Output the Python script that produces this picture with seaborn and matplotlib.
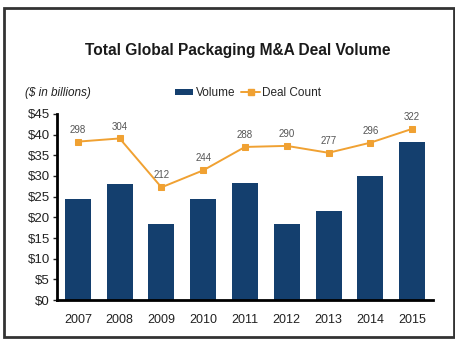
import matplotlib
matplotlib.use("Agg")
import matplotlib.pyplot as plt
import seaborn as sns
import pandas as pd
from matplotlib.patches import Rectangle
from matplotlib.lines import Line2D
from matplotlib.patches import Patch

years = ["2007", "2008", "2009", "2010", "2011", "2012", "2013", "2014", "2015"]
volume = [24.4, 28.1, 18.4, 24.4, 28.3, 18.4, 21.5, 30.0, 38.3]
deal_count = [298, 304, 212, 244, 288, 290, 277, 296, 322]
yticks = [0, 5, 10, 15, 20, 25, 30, 35, 40, 45]
ytick_labels = ["$0", "$5", "$10", "$15", "$20", "$25", "$30", "$35", "$40", "$45"]

sns.set_theme(style="white")
plt.rcParams['font.family'] = ['Liberation Sans', 'DejaVu Sans']

navy = "#143f6e"
orange = "#f0a132"

df = pd.DataFrame({"year": years, "volume": volume, "count": deal_count})

W, H = 456, 343
fig = plt.figure(figsize=(W / 100, H / 100), dpi=100)
ax = fig.add_axes([57 / W, 1 - 300 / H, 376 / W, 186 / H])

sns.barplot(data=df, x="year", y="volume", color=navy, width=0.62, ax=ax,
            saturation=1, edgecolor="none")
ax.set_ylim(0, 45)
ax.set_yticks(yticks)
ax.set_yticklabels(ytick_labels)
ax.set_xlabel("")
ax.set_ylabel("")
for s in ["top", "right"]:
    ax.spines[s].set_visible(False)
ax.spines["left"].set_linewidth(2)
ax.spines["bottom"].set_linewidth(2)
ax.spines["left"].set_color("black")
ax.spines["bottom"].set_color("black")
ax.tick_params(axis="y", left=True, length=3, width=1, labelsize=9.5, pad=2, colors="#222222")
ax.tick_params(axis="x", bottom=False, labelsize=9, pad=4, colors="#222222")
ax.set_xlim(-0.5, 8.5)

ax2 = ax.twinx()
sns.lineplot(data=df, x="year", y="count", color=orange, marker="s", markersize=4,
             markeredgecolor=orange, linewidth=1.4, ax=ax2, sort=False)
ax2.set_ylim(0, 350)
ax2.set_xlim(-0.5, 8.5)
ax2.axis("off")
for i, c in enumerate(deal_count):
    ax2.annotate(str(c), (i, c), xytext=(0, 5), textcoords="offset points",
                 ha="center", va="bottom", fontsize=7, color="#555555")

fig.text(238 / W, 1 - 50 / H, "Total Global Packaging M&A Deal Volume",
         ha="center", va="center", fontsize=11.2, fontweight="bold",
         color="#1a1a1a")
fig.text(25 / W, 1 - 93 / H, "($ in billions)", ha="left", va="center",
         fontsize=8.5, style="italic", color="#222222")

handles = [Patch(facecolor=navy, edgecolor="none"),
           Line2D([0], [0], color=orange, marker="s", markersize=4, linewidth=1.4)]
fig.legend(handles, ["Volume", "Deal Count"], loc="center", bbox_to_anchor=(248 / W, 1 - 93 / H),
           ncol=2, frameon=False, fontsize=8.5, handlelength=1.6, handleheight=0.35,
           columnspacing=0.5, handletextpad=0.2)

fig.patches.append(Rectangle((4 / W, 1 - 337 / H), 450 / W, 329 / H, transform=fig.transFigure,
                             fill=False, edgecolor="#333333", linewidth=2, zorder=10))

fig.savefig("out.png", dpi=100)
